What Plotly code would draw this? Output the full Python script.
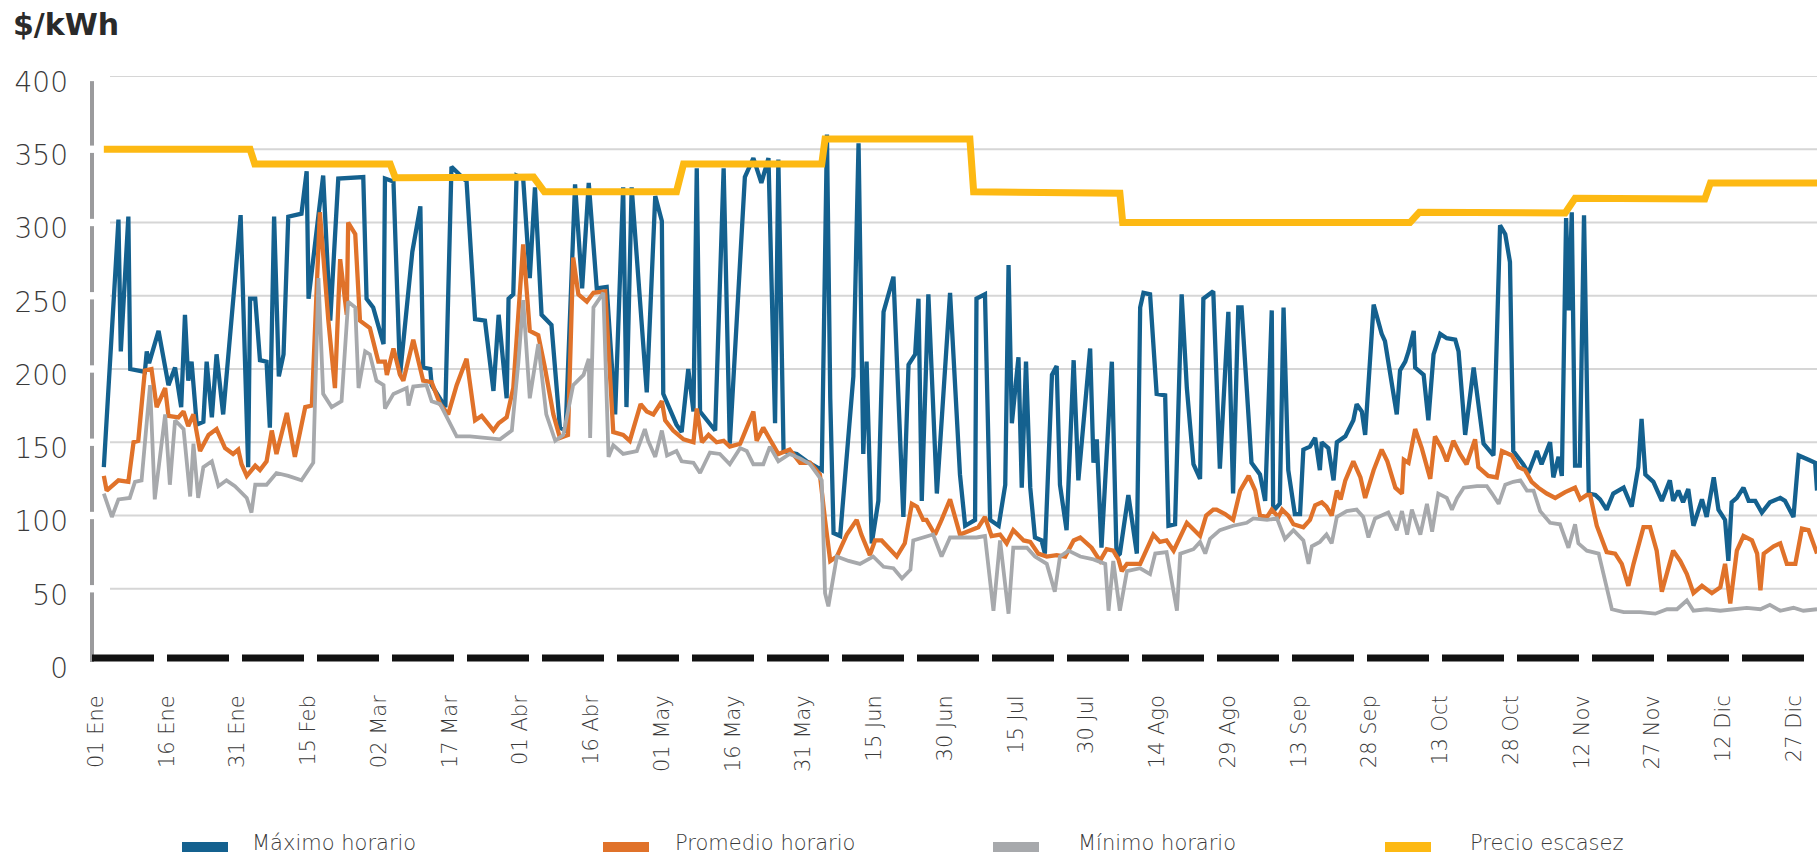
import plotly.graph_objects as go

# ---------------- data (day index from 01 Ene, value in $/kWh) ----------------
max_days = [0.6, 3.7, 4.2, 5.8, 6.2, 9.3, 9.7, 10.2, 12.2, 14.3, 15.7, 17.0, 17.8, 18.5, 19.2, 20.3, 21.7, 22.4,
            23.5, 24.5, 25.9, 29.6, 31.2, 31.6, 32.7, 33.7, 35.1, 35.8, 36.7, 37.7, 38.7, 39.7, 42.5, 43.6, 44.0,
            47.1, 48.6, 50.3, 55.6, 56.3, 57.7, 59.9, 60.2, 62.0, 63.4, 66.0, 67.7, 68.3, 69.8, 70.1, 73.0, 74.3,
            77.5, 79.3, 81.4, 83.2, 84.3, 86.0, 86.4, 87.4, 88.1, 89.5, 90.9, 92.0, 93.4, 95.5, 97.3, 98.5, 100.5,
            102.0, 103.4, 105.1, 107.2, 109.0, 110.7, 111.4, 112.5, 115.7, 117.5, 118.9, 119.2, 122.0, 123.1,
            124.5, 125.6, 126.3, 127.0, 128.8, 130.2, 132.0, 133.3, 136.5, 138.3, 140.0, 141.5, 142.9, 143.6,
            144.7, 147.5, 149.6, 152.8, 153.9, 154.6, 155.3, 156.7, 159.5, 160.6, 161.6, 162.3, 163.4, 164.8,
            165.9, 168.0, 170.1, 171.2, 172.6, 173.3, 174.0, 175.4, 177.2, 180.0, 182.1, 183.2, 185.3, 185.6,
            187.4, 188.5, 190.3, 191.7, 192.4, 193.1, 194.5, 195.2, 196.1, 197.0, 198.0, 199.4, 200.1, 201.6,
            202.6, 203.3, 204.7, 206.2, 207.2, 209.7, 210.4, 211.1, 212.1, 214.3, 215.3, 216.0, 217.8, 219.6,
            220.3, 221.0, 222.4, 223.8, 225.6, 226.3, 227.7, 229.1, 230.2, 231.6, 233.0, 233.7, 235.8, 237.2,
            239.0, 240.0, 241.1, 241.8, 243.9, 245.7, 246.8, 248.2, 248.5, 249.9, 250.7, 251.7, 253.1, 254.2,
            254.9, 256.3, 257.4, 258.4, 258.8, 260.2, 261.3, 262.0, 263.8, 265.5, 266.2, 267.3, 268.0, 269.8,
            271.5, 272.2, 274.7, 275.4, 276.5, 277.2, 278.3, 278.6, 280.4, 281.4, 282.5, 283.9, 285.3, 287.1,
            287.8, 289.2, 291.0, 293.1, 295.2, 296.6, 297.7, 298.7, 299.4, 301.5, 302.6, 304.4, 305.4, 307.2,
            307.9, 309.0, 309.7, 310.6, 311.2, 311.8, 312.5, 313.5, 314.4, 315.4, 316.8, 317.8, 319.2, 320.6,
            322.8, 324.5, 325.9, 326.6, 327.4, 329.1, 330.9, 332.6, 333.3, 334.4, 335.4, 336.5, 337.6, 339.4,
            340.4, 341.9, 342.9, 344.3, 345.0, 345.7, 346.8, 348.2, 349.3, 350.7, 352.1, 353.8, 356.0, 357.0,
            358.8, 359.9, 362.0, 363.4, 363.8]
max_vals = [133, 302, 212, 304, 200, 198, 212, 204, 226, 189, 201, 174, 237, 192, 205, 162, 164, 205,
            167, 210, 169, 305, 133, 248, 248, 206, 205, 160, 304, 195, 210, 304, 306, 335, 248,
            332, 233, 330, 331, 248, 242, 217, 330, 328, 196, 280, 311, 201, 200, 189, 174, 338,
            328, 234, 233, 185, 237, 180, 248, 251, 332, 330, 262, 324, 237, 230, 160, 158, 326,
            255, 327, 255, 256, 169, 324, 174, 324, 184, 318, 301, 183, 162, 157,
            200, 171, 337, 171, 163, 158, 337, 149, 331, 344, 327, 344, 163, 343,
            144, 142, 137, 131, 360, 180, 88, 86, 195, 354, 142, 205, 81, 110,
            239, 263, 99, 203, 210, 248, 110, 251, 115, 252, 128, 93, 97, 248,
            251, 97, 93, 121, 271, 163, 208, 119, 205, 119, 85, 83, 74, 196,
            202, 121, 90, 206, 124, 214, 136, 152, 78, 205, 72, 74, 114, 74,
            242, 252, 251, 183, 182, 93, 94, 251, 187, 135, 125, 248, 253, 132,
            239, 115, 242, 242, 136, 128, 110, 240, 103, 108, 242, 131, 101, 101,
            145, 147, 153, 131, 150, 146, 124, 150, 154, 165, 176, 171, 155, 244,
            224, 219, 169, 199, 205, 212, 226, 201, 196, 165, 210, 224, 221, 220,
            212, 155, 201, 149, 141, 298, 292, 273, 144, 135, 129, 144, 135, 150,
            126, 140, 127, 303, 240, 307, 134, 134, 305, 115, 114, 111, 104, 115,
            119, 106, 133, 166, 128, 123, 110, 124, 110, 117, 109, 118, 93, 111,
            99, 126, 104, 97, 69, 109, 112, 119, 110, 110, 102, 109, 112, 110,
            99, 141, 138, 136, 117]

avg_days = [0.6, 1.2, 3.7, 5.8, 6.9, 7.9, 9.3, 10.7, 11.8, 13.6, 14.3, 16.4, 17.5, 18.5, 19.6, 21.0, 22.8, 24.5,
            26.3, 28.0, 29.1, 29.8, 30.9, 32.7, 33.7, 35.1, 36.2, 37.2, 39.4, 41.1, 43.3, 44.7, 46.4, 48.2, 49.6,
            50.7, 52.1, 52.4, 53.9, 54.9, 57.0, 58.8, 60.2, 60.6, 62.0, 63.4, 64.1, 66.2, 68.3, 70.1, 71.9, 73.6,
            75.4, 77.5, 79.3, 80.7, 83.2, 84.3, 86.0, 87.4, 89.5, 90.9, 92.7, 94.1, 95.9, 97.3, 99.0, 100.1, 101.2,
            103.0, 104.4, 106.9, 108.6, 110.7, 112.1, 114.4, 115.7, 117.1, 118.9, 119.6, 121.3, 123.5, 125.6,
            126.3, 127.4, 128.8, 130.5, 132.0, 133.3, 135.5, 136.9, 138.3, 139.0, 140.4, 141.8, 143.6, 146.0,
            148.2, 150.3, 152.4, 153.5, 154.6, 156.0, 158.1, 160.2, 161.2, 163.0, 164.1, 165.5, 166.9, 168.7,
            170.4, 171.9, 173.0, 174.3, 175.0, 176.8, 178.2, 180.0, 182.1, 184.2, 186.0, 187.4, 188.8, 190.6,
            192.0, 193.4, 195.6, 197.0, 198.7, 200.5, 202.6, 204.4, 206.2, 207.6, 210.0, 211.8, 213.2, 214.6,
            215.7, 216.4, 217.5, 220.3, 223.1, 224.5, 225.9, 227.4, 230.2, 233.0, 234.3, 235.8, 236.5, 238.3,
            240.0, 241.5, 243.3, 244.7, 245.7, 247.2, 248.2, 249.6, 250.4, 251.7, 252.8, 254.9, 256.3, 257.4,
            258.8, 259.8, 260.9, 262.0, 262.8, 263.8, 265.5, 267.0, 268.0, 269.8, 271.5, 272.7, 274.4, 275.8,
            276.2, 277.2, 278.6, 280.0, 281.8, 282.8, 284.2, 285.3, 286.7, 288.1, 289.5, 291.3, 292.0, 294.1,
            295.9, 297.0, 299.1, 300.5, 301.9, 303.3, 304.7, 306.5, 308.3, 310.4, 312.5, 313.6, 315.0, 315.7,
            317.1, 319.2, 321.0, 322.4, 323.8, 324.9, 327.0, 328.4, 329.8, 330.9, 333.3, 334.8, 336.2, 337.6,
            339.4, 341.5, 343.3, 344.3, 345.4, 346.8, 348.2, 350.0, 351.1, 351.8, 352.5, 354.6, 356.0, 357.4,
            359.2, 360.6, 362.0, 363.8]
avg_vals = [127, 117, 124, 123, 150, 151, 199, 200, 174, 187, 168, 167, 171, 161, 169, 144, 155, 159,
            146, 142, 145, 135, 127, 134, 131, 137, 158, 142, 170, 140, 174, 175, 307, 233, 187,
            275, 237, 300, 292, 233, 228, 205, 205, 196, 214, 196, 192, 220, 192, 191, 176, 169,
            189, 207, 165, 168, 158, 163, 167, 187, 285, 226, 223, 201, 169, 153, 155, 276, 251,
            246, 252, 253, 157, 155, 151, 176, 171, 169, 178, 165, 158, 152, 150,
            173, 150, 155, 150, 151, 147, 149, 160, 171, 151, 160, 152, 142, 145,
            136, 136, 128, 97, 69, 72, 87, 97, 87, 73, 83, 83, 78, 72,
            81, 108, 106, 97, 97, 87, 97, 111, 87, 90, 92, 99, 86, 87,
            81, 90, 83, 82, 74, 72, 73, 72, 83, 85, 78, 69, 77, 76,
            70, 62, 67, 67, 87, 82, 83, 76, 95, 86, 100, 104, 104, 101,
            97, 117, 127, 117, 100, 99, 104, 99, 104, 100, 94, 92, 97, 107,
            109, 106, 100, 117, 111, 124, 137, 126, 112, 131, 145, 137, 119, 115,
            138, 136, 159, 146, 125, 154, 146, 137, 151, 142, 135, 152, 133, 127,
            126, 144, 141, 133, 131, 123, 119, 115, 112, 116, 119, 111, 114, 114,
            93, 75, 74, 67, 52, 67, 92, 92, 76, 48, 76, 69, 60, 47,
            52, 47, 51, 67, 40, 76, 86, 83, 74, 49, 74, 79, 81, 67,
            67, 91, 90, 74]

min_days = [0.6, 2.3, 3.7, 6.1, 7.2, 8.6, 10.4, 11.4, 13.6, 14.6, 15.7, 17.5, 18.9, 19.6, 20.6, 21.7, 23.5, 24.9,
            26.6, 28.4, 30.9, 31.9, 32.7, 35.1, 37.2, 39.7, 42.5, 45.0, 46.1, 47.1, 48.9, 51.0, 52.4, 53.9, 54.6,
            56.0, 57.0, 58.4, 59.9, 60.2, 62.0, 64.8, 65.2, 66.2, 69.0, 70.1, 71.9, 73.6, 75.4, 78.2, 81.1, 84.6,
            87.1, 88.5, 89.5, 90.9, 92.7, 94.4, 96.3, 98.0, 100.1, 102.3, 103.4, 103.7, 104.4, 106.5, 107.6, 108.6,
            110.7, 113.6, 115.3, 116.0, 117.5, 118.9, 120.0, 122.0, 123.1, 125.6, 127.0, 129.1, 131.2, 133.3,
            135.5, 136.9, 138.3, 140.4, 141.8, 143.6, 146.0, 148.2, 150.3, 152.8, 153.5, 154.2, 156.0, 158.5,
            160.9, 163.7, 165.9, 168.0, 169.8, 171.6, 172.2, 174.3, 176.4, 178.2, 180.0, 182.8, 185.6, 187.4,
            189.2, 190.6, 192.4, 193.4, 196.3, 198.0, 200.5, 202.2, 203.3, 205.1, 207.6, 210.4, 212.9, 213.6,
            214.6, 216.0, 217.5, 220.3, 222.4, 223.5, 225.9, 228.1, 228.8, 231.6, 233.0, 234.1, 235.1, 237.2,
            240.0, 242.9, 244.3, 247.2, 249.3, 251.0, 252.8, 254.9, 256.0, 256.7, 258.4, 259.8, 260.9, 262.0,
            264.1, 266.2, 267.6, 268.7, 270.1, 271.5, 272.9, 274.7, 275.8, 276.9, 277.9, 279.7, 281.1, 282.2,
            283.5, 285.3, 286.4, 287.5, 288.9, 291.7, 293.8, 294.9, 296.3, 297.7, 299.4, 300.9, 302.3, 303.7,
            305.1, 307.2, 309.3, 311.1, 312.5, 313.2, 315.0, 317.5, 319.2, 320.3, 322.8, 326.3, 329.5, 332.0,
            334.1, 336.2, 337.6, 340.4, 343.3, 346.1, 348.9, 351.8, 353.8, 356.0, 358.8, 360.9, 363.8]
min_vals = [115, 99, 111, 112, 123, 124, 189, 111, 169, 121, 165, 159, 113, 149, 112, 133, 137, 120,
            124, 120, 112, 102, 121, 121, 129, 127, 124, 136, 262, 183, 174, 178, 246, 242, 187,
            212, 210, 192, 189, 173, 183, 187, 175, 188, 189, 178, 176, 165, 154, 154, 153, 152,
            158, 205, 247, 180, 217, 169, 151, 155, 189, 196, 207, 153, 242, 252, 140, 148,
            142, 144, 159, 151, 140, 158, 141, 144, 137, 136, 129, 143, 142, 135,
            146, 144, 135, 135, 147, 137, 142, 139, 135, 124, 47, 38, 72, 69,
            67, 72, 65, 64, 57, 63, 83, 85, 87, 72, 85, 85, 85, 86,
            35, 83, 33, 78, 78, 72, 67, 48, 72, 76, 72, 70, 67, 35,
            69, 35, 62, 64, 60, 74, 75, 35, 74, 77, 82, 74, 84, 90,
            93, 95, 98, 97, 98, 84, 90, 83, 67, 79, 82, 87, 81, 99,
            103, 104, 99, 85, 98, 100, 102, 90, 103, 87, 104, 87, 108, 89,
            115, 112, 104, 112, 119, 120, 120, 115, 108, 121, 123, 124, 117, 117,
            103, 95, 94, 78, 94, 81, 76, 74, 51, 36, 34, 34, 33, 36,
            36, 42, 35, 36, 35, 36, 37, 36, 39, 35, 37, 35, 36]

scarcity_days = [0.6, 31.6, 32.6, 61.3, 62.4, 91.7, 94.0, 122.0, 123.5, 152.8, 153.5, 184.2, 185.0,
                 216.0, 216.6, 277.5, 279.5, 310.4, 312.5, 340.0, 341.2, 363.8]
scarcity_vals = [350, 350, 340, 340, 330.5, 331, 321, 321, 340, 340, 357, 357, 321,
                 320, 300, 300, 307, 306.5, 316.5, 316, 327, 327]

tick_days = list(range(0, 361, 15))
tick_labels = ["01 Ene", "16 Ene", "31 Ene", "15 Feb", "02 Mar", "17 Mar", "01 Abr", "16 Abr",
               "01 May", "16 May", "31 May", "15 Jun", "30 Jun", "15 Jul", "30 Jul", "14 Ago",
               "29 Ago", "13 Sep", "28 Sep", "13 Oct", "28 Oct", "12 Nov", "27 Nov", "12 Dic", "27 Dic"]
y_ticks = [0, 50, 100, 150, 200, 250, 300, 350, 400]

series_names = ["Máximo horario", "Promedio horario", "Mínimo horario", "Precio escasez"]
BLUE, ORANGE, GRAY, YELLOW = "#14618f", "#e0722a", "#a7a9ac", "#fdb913"
TEXT = "#3a3a3a"
FONT = "DejaVu Sans Light, DejaVu Sans"

# ---------------- layout geometry (pixels) ----------------
W, H = 1817, 859
PL, PT, PB = 92, 76, 662          # plot area left / top / bottom
PX_PER_DAY = 4.717
DAY0_PX = 101
x_lo = -(DAY0_PX - PL) / PX_PER_DAY
x_hi = x_lo + (W - PL) / PX_PER_DAY


def px(x):
    return (x - PL) / (W - PL)


def py(y):
    return (PB - y) / (PB - PT)


fig = go.Figure()
for days, vals, name, color, width in [
    (max_days, max_vals, series_names[0], BLUE, 4.3),
    (avg_days, avg_vals, series_names[1], ORANGE, 4.3),
    (min_days, min_vals, series_names[2], GRAY, 3.8),
    (scarcity_days, scarcity_vals, series_names[3], YELLOW, 7),
]:
    fig.add_trace(go.Scatter(x=days, y=vals, mode="lines", name=name,
                             line=dict(color=color, width=width), showlegend=False,
                             hovertemplate="%{y:.0f}<extra>" + name + "</extra>"))

shapes = []
# gridlines
for v in y_ticks[1:]:
    shapes.append(dict(type="line", xref="paper", yref="y", x0=px(110), x1=1, y0=v, y1=v,
                       line=dict(color="#d6d6d6", width=2), layer="below"))
# segmented y axis line
for i in range(len(y_ticks) - 1):
    lo = y_ticks[i] + (0 if i == 0 else 2.5)
    hi = y_ticks[i + 1] - (3.5 if i == len(y_ticks) - 2 else 2.5)
    shapes.append(dict(type="line", xref="paper", yref="y", x0=0, x1=0, y0=lo, y1=hi,
                       line=dict(color="#9b9b9d", width=4), layer="below"))
# dashed x axis line
shapes.append(dict(type="line", xref="paper", yref="y", x0=0, x1=1, y0=2.7, y1=2.7,
                   line=dict(color="#111111", width=7, dash="62px,13px"), layer="above"))

# legend (manual, to match spacing)
legend_box_x = [182, 603, 993, 1385]
legend_text_x = [250, 673, 1076, 1468]
legend_colors = [BLUE, ORANGE, GRAY, YELLOW]
annotations = []
for bx, tx, c, name in zip(legend_box_x, legend_text_x, legend_colors, series_names):
    shapes.append(dict(type="rect", xref="paper", yref="paper", x0=px(bx), x1=px(bx + 46),
                       y0=py(852), y1=py(842), fillcolor=c, line=dict(width=0)))
    annotations.append(dict(xref="paper", yref="paper", x=px(tx), y=py(843), text=name,
                            showarrow=False, xanchor="left", yanchor="middle",
                            font=dict(family=FONT, size=21, color=TEXT, weight=300)))

annotations.append(dict(xref="paper", yref="paper", x=px(11), y=py(25), text="$/kWh",
                        showarrow=False, xanchor="left", yanchor="middle",
                        font=dict(family="DejaVu Sans", size=30, color="#2a2a2a", weight="bold")))

fig.update_layout(
    width=W, height=H,
    margin=dict(l=PL, r=0, t=PT, b=H - PB, autoexpand=False),
    paper_bgcolor="white", plot_bgcolor="white",
    showlegend=False,
    shapes=shapes, annotations=annotations,
    font=dict(family=FONT, color=TEXT),
)
fig.update_xaxes(range=[x_lo, x_hi], showgrid=False, zeroline=False, showline=False,
                 tickmode="array", tickvals=tick_days, ticktext=tick_labels, tickangle=-90,
                 ticks="", ticklabelstandoff=28, ticklabelshift=-5, automargin=False,
                 tickfont=dict(family=FONT, size=21, color=TEXT, weight=300))
fig.update_yaxes(range=[0, 400], showgrid=False, zeroline=False, showline=False,
                 tickmode="array", tickvals=y_ticks, ticks="", ticklabelstandoff=23,
                 ticklabelshift=6, automargin=False,
                 tickfont=dict(family=FONT, size=28, color=TEXT, weight=300))

# remove the default 8px page margin so the figure fills the window exactly
fig.write_html("out.html", config={"displayModeBar": False},
               post_script="document.body.style.margin='0px';")
